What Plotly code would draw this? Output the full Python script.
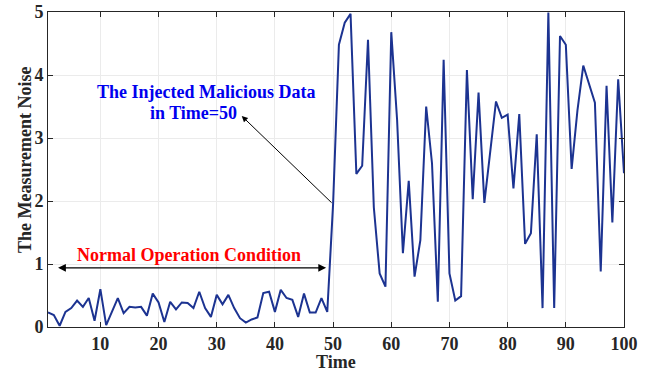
import plotly.graph_objects as go

time = list(range(1, 101))
noise = [0.23, 0.19, 0.02, 0.24, 0.30, 0.42, 0.32, 0.46, 0.10, 0.60,
         0.03, 0.24, 0.46, 0.22, 0.32, 0.31, 0.32, 0.18, 0.53, 0.39,
         0.08, 0.40, 0.28, 0.39, 0.38, 0.30, 0.56, 0.30, 0.16, 0.51,
         0.36, 0.51, 0.30, 0.14, 0.07, 0.12, 0.15, 0.54, 0.56, 0.24,
         0.59, 0.46, 0.43, 0.16, 0.53, 0.23, 0.23, 0.46, 0.24, 1.95,
         4.48, 4.83, 4.97, 2.43, 2.56, 4.56, 1.90, 0.85, 0.64, 4.68,
         3.29, 1.17, 2.32, 0.80, 1.38, 3.50, 2.60, 0.40, 4.24, 0.85,
         0.42, 0.49, 4.08, 2.03, 3.72, 1.97, 2.76, 3.58, 3.32, 3.37,
         2.20, 3.38, 1.32, 1.49, 3.06, 0.30, 4.99, 0.30, 4.62, 4.48,
         2.51, 3.44, 4.15, 3.86, 3.56, 0.88, 3.83, 1.66, 3.93, 2.44]

x_ticks = [10, 20, 30, 40, 50, 60, 70, 80, 90, 100]
y_ticks = [0, 1, 2, 3, 4, 5]

font_family = "Liberation Serif"
axis_text_color = "#262626"

fig = go.Figure()
fig.add_trace(go.Scatter(x=time, y=noise, mode="lines",
                         line=dict(color="#1c3391", width=2), showlegend=False))

# double-headed arrow for normal operation
fig.add_annotation(x=48.8, y=0.94, ax=2.47, ay=0.94, xref="x", yref="y",
                   axref="x", ayref="y", text="", showarrow=True,
                   arrowhead=2, arrowside="end+start", arrowsize=1.2,
                   arrowwidth=1.3, arrowcolor="black")
fig.add_annotation(x=25.3, y=1.14, xref="x", yref="y", showarrow=False,
                   text="<b>Normal Operation Condition</b>",
                   font=dict(family=font_family, size=18, color="#ff0000"))

# arrow pointing at injection
fig.add_annotation(x=34.3, y=3.35, ax=50, ay=1.95, xref="x", yref="y",
                   axref="x", ayref="y", text="", showarrow=True,
                   arrowhead=2, arrowsize=1.2, arrowwidth=1,
                   arrowcolor="black")
fig.add_annotation(x=28.07, y=3.735, xref="x", yref="y", showarrow=False,
                   text="<b>The Injected Malicious Data</b>",
                   font=dict(family=font_family, size=18, color="#0000ee"))
fig.add_annotation(x=33.8, y=3.40, xref="x", yref="y", showarrow=False,
                   xanchor="right",
                   text="<b>in Time=50</b>",
                   font=dict(family=font_family, size=18, color="#0000ee"))

# axis titles
fig.add_annotation(x=0.5, y=-0.112, xref="paper", yref="paper", showarrow=False,
                   yanchor="middle", text="<b>Time</b>",
                   font=dict(family=font_family, size=18, color=axis_text_color))
fig.add_annotation(x=-0.0399, y=0.53, xref="paper", yref="paper", showarrow=False,
                   xanchor="center", yanchor="middle", textangle=-90,
                   text="<b>The Measurement Noise</b>",
                   font=dict(family=font_family, size=18, color=axis_text_color))

axis_common = dict(showline=True, linecolor=axis_text_color, linewidth=1, mirror="ticks",
                   ticks="inside", ticklen=5, tickcolor=axis_text_color,
                   showgrid=True, gridcolor="#ebebeb", gridwidth=1,
                   zeroline=False, automargin=False,
                   tickfont=dict(family=font_family, size=18, color=axis_text_color))

fig.update_xaxes(range=[1, 100], tickvals=x_ticks,
                 ticktext=[f"<b>{v}</b>" for v in x_ticks],
                 **axis_common)
fig.update_yaxes(range=[0, 5], tickvals=y_ticks,
                 ticktext=[f"<b>{v}</b>" for v in y_ticks],
                 **axis_common)

fig.update_layout(width=650, height=377,
                  margin=dict(l=48, r=26, t=12, b=50),
                  plot_bgcolor="white", paper_bgcolor="white")

fig.write_html("out.html")
